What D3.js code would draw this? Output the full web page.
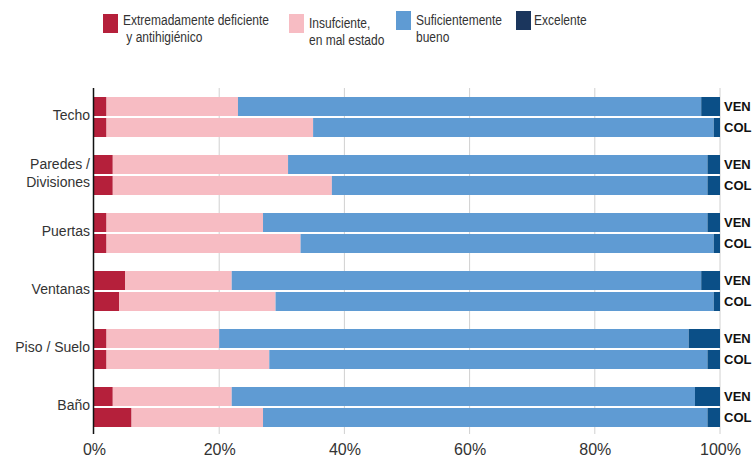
<!DOCTYPE html>
<html><head><meta charset="utf-8">
<script src="https://cdn.jsdelivr.net/npm/d3@7"></script>
<style>body{margin:0;background:#fff}svg{display:block;font-family:"Liberation Sans",Arial,sans-serif}</style>
</head><body><svg id="c" width="754" height="457"></svg>
<script>
const categories = ["Techo","Paredes /\nDivisiones","Puertas","Ventanas","Piso / Suelo","Baño"];
const countries = ["VEN","COL"];
const seriesNames = ["Extremadamente deficiente\n\u00a0y antihigiénico","Insufciente,\nen mal estado","Suficientemente\nbueno","Excelente"];
const seriesColors = ["#b5203b","#f7bcc3","#5f9bd3","#0b4f87"];
const legendColors = ["#b5203b","#f7bcc3","#5f9bd3","#1b365d"];
// values ordered: [cat0 VEN, cat0 COL, cat1 VEN, cat1 COL, ...]
const extremadamente = [2,2, 3,3, 2,2, 5,4, 2,2, 3,6];
const insuficiente   = [21,33, 28,35, 25,31, 17,25, 18,26, 19,21];
const suficiente     = [74,64, 67,60, 71,66, 75,70, 75,70, 74,71];
const excelente      = [3,1, 2,2, 2,1, 3,1, 5,2, 4,2];
const tickValues = [0,20,40,60,80,100];

const svg = d3.select("#c");
const x = d3.scaleLinear().domain([0,100]).range([94,720]);
const y0 = d3.scaleBand().domain(categories).range([88,436]).paddingInner(18/58).paddingOuter(9/58);
const y1 = d3.scaleBand().domain(countries).range([0,y0.bandwidth()]).paddingInner(2/21);

const rows = [];
categories.forEach((c,i)=>countries.forEach((k,j)=>{
  const idx=i*2+j;
  rows.push({cat:c,country:k,s0:extremadamente[idx],s1:insuficiente[idx],s2:suficiente[idx],s3:excelente[idx]});
}));
const stack = d3.stack().keys(["s0","s1","s2","s3"])(rows);

// gridlines
svg.append("g").selectAll("line").data(tickValues.slice(1)).join("line")
  .attr("x1",d=>x(d)).attr("x2",d=>x(d)).attr("y1",88).attr("y2",434)
  .attr("stroke","#d0d0d0").attr("stroke-width",1);

// bars
svg.append("g").selectAll("g").data(stack).join("g")
  .attr("fill",(d,i)=>seriesColors[i])
  .selectAll("rect").data(d=>d).join("rect")
  .attr("x",d=>x(d[0])).attr("width",d=>x(d[1])-x(d[0]))
  .attr("y",d=>y0(d.data.cat)+y1(d.data.country)).attr("height",y1.bandwidth());

// y axis line
svg.append("line").attr("x1",93.5).attr("x2",93.5).attr("y1",88).attr("y2",434).attr("stroke","#111").attr("stroke-width",1.5);

// x axis
const xAxis = d3.axisBottom(x).tickValues(tickValues).tickFormat(d=>d+"%").tickSize(0).tickPadding(0);
const gx = svg.append("g").attr("transform","translate(0,440)").call(xAxis);
gx.select(".domain").remove();
gx.selectAll("text").attr("font-size",16).attr("fill","#333").attr("dy","0.95em").attr("font-family","'Liberation Sans',Arial,sans-serif");

// category labels
const cl = svg.append("g").selectAll("text").data(categories).join("text")
  .attr("text-anchor","end").attr("font-size",14).attr("fill","#333")
  .attr("x",90);
cl.each(function(c){
  const lines=c.split("\n");
  const cy=y0(c)+y0.bandwidth()/2-1.5;
  d3.select(this).selectAll("tspan").data(lines).join("tspan")
    .attr("x",90).attr("y",(d,i)=>cy+(i-(lines.length-1)/2)*18).attr("dy","0.35em").text(d=>d);
});

// country labels
svg.append("g").selectAll("text").data(rows).join("text")
  .attr("x",724).attr("y",d=>y0(d.cat)+y1(d.country)+y1.bandwidth()/2).attr("dy","0.36em")
  .attr("font-size",13).attr("font-weight","bold").attr("fill","#111").text(d=>d.country);

// legend
const legX = [103,289,396,516];
const legY = [14,14,11,11];
const textX = [123,309,416,534];
const textY = [25,28,25,25];
const lg = svg.append("g");
seriesNames.forEach((n,i)=>{
  lg.append("rect").attr("x",legX[i]).attr("y",legY[i]).attr("width",15).attr("height",19).attr("fill",legendColors[i]);
  const t=lg.append("text").attr("font-size",12).attr("fill","#333")
    .attr("transform",`translate(${textX[i]},${textY[i]}) scale(1,1.15)`);
  n.split("\n").forEach((line,j)=>{
    t.append("tspan").attr("x",0).attr("y",j*16.7/1.15).text(line);
  });
});
</script></body></html>
